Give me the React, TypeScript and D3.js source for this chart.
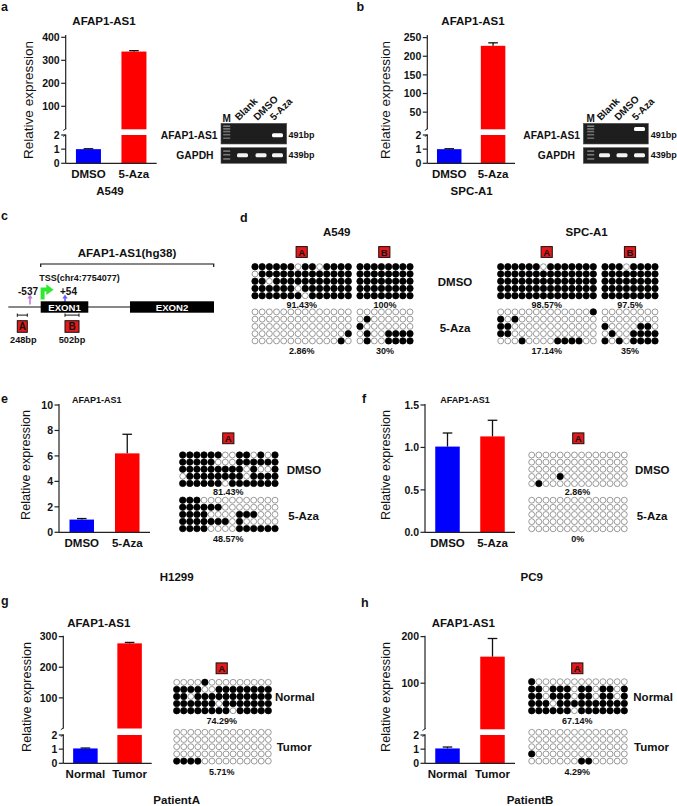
import React from "react";
import * as d3 from "d3";

const FONT = "'Liberation Sans', Arial, Helvetica, sans-serif";
const BLUE = "#0000ff";
const RED = "#ff0000";
const BOXRED = "#e8181a";

// ---------------- data ----------------
const TREATMENTS = ["DMSO", "5-Aza"];
const TISSUES = ["Normal", "Tumor"];

const A549_EXPR = [1.0, 338];
const A549_ERR = [0.03, 4];
const SPCA1_EXPR = [1.0, 228];
const SPCA1_ERR = [0.03, 8];
const H1299_EXPR = [1.0, 6.2];
const H1299_ERR = [0.08, 1.5];
const PC9_EXPR = [1.01, 1.13];
const PC9_ERR = [0.16, 0.19];
const PATIENTA_EXPR = [1.05, 278];
const PATIENTA_ERR = [0.03, 3];
const PATIENTB_EXPR = [1.05, 157];
const PATIENTB_ERR = [0.1, 39];

const TICKS_LOWER = [0, 1, 2];
const TICKS_A_UPPER = [100, 200, 300, 400];
const TICKS_B_UPPER = [50, 100, 150, 200, 250];
const TICKS_E = [0, 2, 4, 6, 8, 10];
const TICKS_F = [0, 0.5, 1.0, 1.5];
const TICKS_G_UPPER = [100, 200, 300];
const TICKS_H_UPPER = [100, 200];

const GEL_LANES = ["M", "Blank", "DMSO", "5-Aza"];
const GEL_A549_TARGET = [0, 0, 1];
const GEL_A549_GAPDH = [1, 1, 1];
const GEL_SPCA1_TARGET = [0, 0, 1];
const GEL_SPCA1_GAPDH = [1, 1, 1];

// methylation patterns (1 = methylated, 0 = unmethylated)
const A549_A_DMSO = ["11111101101111", "01111111111111", "11011111111111", "11111101111111", "11111110111111"];
const A549_A_AZA = ["00000000000000", "00000000000000", "00000000000000", "00000000000001", "00000000000010"];
const A549_B_DMSO = ["11111111", "11111111", "11111111", "11111111", "11111111"];
const A549_B_AZA = ["00000000", "01000000", "10000000", "01001111", "01001111"];
const SPC_A_DMSO = ["11111101111111", "11111111111111", "11111111111111", "11111111111111", "11111111111111"];
const SPC_A_AZA = ["00000000000001", "10100000000000", "11000000000000", "11000000000000", "00010000111100"];
const SPC_B_DMSO = ["11101111", "11111111", "11111111", "11111111", "11111111"];
const SPC_B_AZA = ["00000000", "00000000", "10000110", "01001111", "10101111"];
const H1299_DMSO = ["11111100110101", "11111000111111", "11111111101001", "01111111101111", "11111101111111"];
const H1299_AZA = ["11100000000000", "11111100000000", "11110000111000", "11111110100000", "11110000111111"];
const PC9_DMSO = ["00000000000000", "00000000000000", "00000000000000", "00001000000000", "01000000000000"];
const PC9_AZA = ["00000000000000", "00000000000000", "00000000000000", "00000000000000", "00000000000000"];
const PA_NORMAL = ["00001000000000", "11110011111111", "11011111111111", "11111101111111", "11111111011111"];
const PA_TUMOR = ["00000000000000", "00000000000000", "00000000000000", "00000000000000", "11110000000000"];
const PB_NORMAL = ["10000000000000", "11011101101101", "11011101101101", "11101111111111", "11111101111111"];
const PB_TUMOR = ["00000000000000", "00000000000000", "00000000000000", "10000000000000", "00000001100000"];

// ---------------- helpers ----------------
function T(props: any) {
  const { x, y, size = 11, weight = "bold", anchor = "middle", fill = "#111", rotate, len, children } = props;
  return (
    <text
      x={x}
      y={y}
      fontSize={size}
      fontWeight={weight}
      textAnchor={anchor}
      fill={fill}
      fontFamily={FONT}
      transform={rotate != null ? `rotate(${rotate} ${x} ${y})` : undefined}
      textLength={len}
      lengthAdjust={len ? "spacingAndGlyphs" : undefined}
    >
      {children}
    </text>
  );
}

function BarChart(p: any) {
  const { axisX, axisEnd, baseY, cats, values, errs, barW } = p;
  const xs = d3.scalePoint<string>().domain(cats).range([axisX, axisEnd]).padding(0.5);
  let lower: any = null;
  let upper: any = null;
  let single: any = null;
  if (p.seg) {
    lower = d3.scaleLinear().domain([0, 2]).range([baseY, p.seg.lowerTop]);
    upper = d3.scaleLinear().domain(p.seg.upperDomain).range([p.seg.upperBottom, p.seg.upperTop]);
  } else {
    single = d3.scaleLinear().domain(p.domain).range([baseY, p.top]);
  }
  const els: any[] = [];
  cats.forEach((c: string, i: number) => {
    const v = values[i];
    const e = errs[i];
    const cx = xs(c) as number;
    const fill = i === 0 ? BLUE : RED;
    let topY: number;
    let errY: number;
    if (p.seg && v > 2) {
      els.push(<rect key={"bl" + i} x={cx - barW / 2} y={lower(2)} width={barW} height={lower(0) - lower(2)} fill={fill} />);
      topY = upper(v);
      els.push(<rect key={"bu" + i} x={cx - barW / 2} y={topY} width={barW} height={upper(p.seg.upperDomain[0]) - topY} fill={fill} />);
      errY = upper(v + e);
    } else {
      const sc = p.seg ? lower : single;
      topY = sc(v);
      errY = sc(v + e);
      els.push(<rect key={"b" + i} x={cx - barW / 2} y={topY} width={barW} height={baseY - topY} fill={fill} />);
    }
    els.push(<line key={"e" + i} x1={cx} x2={cx} y1={topY} y2={errY} stroke="#111" strokeWidth={1.3} />);
    els.push(<line key={"c" + i} x1={cx - 4.8} x2={cx + 4.8} y1={errY} y2={errY} stroke="#111" strokeWidth={1.3} />);
    els.push(
      <T key={"l" + i} x={cx} y={p.catY} size={11.5}>
        {c}
      </T>
    );
  });
  const axisEls: any[] = [];
  const tick = (y: number, label: string, k: string) => {
    axisEls.push(<line key={"t" + k} x1={axisX - 4.5} x2={axisX} y1={y} y2={y} stroke="#222" strokeWidth={1.2} />);
    axisEls.push(
      <T key={"tl" + k} x={axisX - 6} y={y + 3.7} size={10.5} anchor="end">
        {label}
      </T>
    );
  };
  const fmt = p.fmt || ((d: number) => String(d));
  if (p.seg) {
    axisEls.push(<line key="al" x1={axisX} x2={axisX} y1={baseY} y2={p.seg.lowerTop} stroke="#222" strokeWidth={1.2} />);
    axisEls.push(<line key="au" x1={axisX} x2={axisX} y1={p.seg.upperBottom} y2={p.seg.upperTop} stroke="#222" strokeWidth={1.2} />);
    axisEls.push(<line key="bk1" x1={axisX - 2.5} x2={axisX + 0.5} y1={p.seg.lowerTop + 1.5} y2={p.seg.lowerTop - 0.5} stroke="#222" strokeWidth={1} />);
    axisEls.push(<line key="bk2" x1={axisX - 2.5} x2={axisX + 0.5} y1={p.seg.upperBottom + 1.2} y2={p.seg.upperBottom - 0.8} stroke="#222" strokeWidth={1} />);
    TICKS_LOWER.forEach((t) => tick(lower(t), fmt(t), "lo" + t));
    p.upperTicks.forEach((t: number) => tick(upper(t), fmt(t), "up" + t));
  } else {
    axisEls.push(<line key="a" x1={axisX} x2={axisX} y1={baseY} y2={p.top - 1} stroke="#222" strokeWidth={1.2} />);
    p.ticks.forEach((t: number) => tick(single(t), fmt(t), "s" + t));
  }
  axisEls.push(<line key="xa" x1={axisX} x2={axisEnd} y1={baseY} y2={baseY} stroke="#222" strokeWidth={1.2} />);
  return (
    <g>
      {els}
      {axisEls}
      <T x={p.title.x} y={p.title.y} size={p.title.size}>
        AFAP1-AS1
      </T>
      <T x={p.ylab.x} y={p.ylab.y} size={p.ylab.size} weight="normal" rotate={-90}>
        Relative expression
      </T>
    </g>
  );
}

function Matrix(p: any) {
  const { pattern, x0, x1, y0, dy, r = 3.2 } = p;
  const ncol = pattern[0].length;
  const xs = d3.scaleLinear().domain([0, ncol - 1]).range([x0, x1]);
  const ys = d3.scaleLinear().domain([0, 1]).range([y0, y0 + dy]);
  return (
    <g>
      {pattern.map((row: string, i: number) =>
        row.split("").map((c, j) => (
          <circle
            key={i + "-" + j}
            cx={xs(j)}
            cy={ys(i)}
            r={c === "1" ? r : r - 0.25}
            fill={c === "1" ? "#000" : "#fff"}
            stroke={c === "1" ? "#000" : "#7a7a7a"}
            strokeWidth={0.75}
          />
        ))
      )}
    </g>
  );
}

function RegionBox({ x, y, label }: any) {
  return (
    <g>
      <rect x={x - 5.6} y={y - 5.4} width={11.2} height={10.8} fill={BOXRED} stroke="#111" strokeWidth={1} />
      <T x={x} y={y + 3.5} size={9.5} weight="bold" fill="#111">
        {label}
      </T>
    </g>
  );
}

function Gel(p: any) {
  const { x, w, lanes, target, gapdh, targetY, labelEnd1, labelEnd2, bpX } = p;
  const topY = 123.3, topH = 20.7, botY = 147.7, botH = 15.6;
  const ladderTop = [0.14, 0.27, 0.4, 0.55, 0.72];
  const ladderBot = [0.22, 0.45, 0.72];
  const bands: any[] = [];
  ladderTop.forEach((f, i) =>
    bands.push(<rect key={"lt" + i} x={lanes[0] - 3.5} y={topY + f * topH - 0.8} width={7} height={1.6} fill="#9a9a9a" opacity={0.8 - i * 0.05} />)
  );
  ladderBot.forEach((f, i) =>
    bands.push(<rect key={"lb" + i} x={lanes[0] - 3.5} y={botY + f * botH - 0.8} width={7} height={1.6} fill="#9a9a9a" opacity={0.75} />)
  );
  target.forEach((v: number, i: number) => {
    if (v) bands.push(<rect key={"t" + i} x={lanes[i + 1] - 5.5} y={targetY - 2} width={11} height={4} rx={1.5} fill="#fff" filter="url(#glow)" />);
  });
  gapdh.forEach((v: number, i: number) => {
    if (v) bands.push(<rect key={"g" + i} x={lanes[i + 1] - 5.5} y={155.3 - 2} width={11} height={4} rx={1.5} fill="#f4f4f4" filter="url(#glow)" />);
  });
  return (
    <g>
      <rect x={x} y={topY} width={w} height={topH} fill="#1e1e1e" stroke="#555" strokeWidth={0.6} />
      <rect x={x} y={botY} width={w} height={botH} fill="#1e1e1e" stroke="#555" strokeWidth={0.6} />
      {bands}
      <T x={lanes[0]} y={121.5} size={10}>
        {GEL_LANES[0]}
      </T>
      {GEL_LANES.slice(1).map((l, i) => (
        <T key={l} x={lanes[i + 1] - 3.5} y={121} size={10} anchor="start" rotate={-45}>
          {l}
        </T>
      ))}
      <T x={labelEnd1} y={138.6} size={10.3} anchor="end">
        AFAP1-AS1
      </T>
      <T x={labelEnd2} y={158.6} size={10.3} anchor="end">
        GAPDH
      </T>
      <T x={bpX} y={138.4} size={9} anchor="start">
        491bp
      </T>
      <T x={bpX} y={158.4} size={9} anchor="start">
        439bp
      </T>
    </g>
  );
}

function PanelC() {
  return (
    <g>
      <T x={127} y={257} size={11.6}>
        AFAP1-AS1(hg38)
      </T>
      <path d="M40.7,267 V264 H213.7 V267" fill="none" stroke="#111" strokeWidth={1.2} />
      <T x={39.3} y={280.5} size={9} anchor="start">
        TSS(chr4:7754077)
      </T>
      <T x={28} y={294.5} size={10}>
        -537
      </T>
      <T x={68.5} y={294.5} size={10}>
        +54
      </T>
      <line x1={30} x2={30} y1={304.5} y2={298} stroke="#c57ad6" strokeWidth={1.6} />
      <polygon points="27.3,298.5 32.7,298.5 30,294.6" fill="#c57ad6" />
      <line x1={65} x2={65} y1={304.5} y2={298} stroke="#6464ff" strokeWidth={1.6} />
      <polygon points="62.3,298.5 67.7,298.5 65,294.6" fill="#6464ff" />
      <line x1={8.3} x2={130} y1={307} y2={307} stroke="#111" strokeWidth={1} />
      <path d="M40.6,299.5 V287.6 H46.3 V284.3 L53.6,289.7 L46.3,295.1 V291.6 H44.6 V299.5 Z" fill="#2ee82e" />
      <rect x={40.7} y={301.3} width={47.6} height={11.4} fill="#000" />
      <T x={64.5} y={310.6} size={9.6} fill="#fff">
        EXON1
      </T>
      <rect x={130} y={301.3} width={84} height={11.4} fill="#000" />
      <T x={172} y={310.6} size={9.6} fill="#fff">
        EXON2
      </T>
      <path d="M17.3,313.5 V316.8 M17.3,315.1 H27.3 M27.3,313.5 V316.8" fill="none" stroke="#111" strokeWidth={1} />
      <rect x={17.3} y={320.7} width={10} height={11.6} fill={BOXRED} stroke="#111" strokeWidth={1} />
      <T x={22.3} y={330} size={10}>
        A
      </T>
      <path d="M65,313.5 V316.8 M65,315.1 H79 M79,313.5 V316.8" fill="none" stroke="#111" strokeWidth={1} />
      <rect x={65} y={320.7} width={14} height={11.6} fill={BOXRED} stroke="#111" strokeWidth={1} />
      <T x={72} y={330} size={10}>
        B
      </T>
      <T x={23.3} y={342.6} size={9.2}>
        248bp
      </T>
      <T x={72} y={342.6} size={9.2}>
        502bp
      </T>
    </g>
  );
}

export default function App() {
  return (
    <svg
      width={677}
      height={806}
      viewBox="0 0 677 806"
      style={{ position: "absolute", left: 0, top: 0, background: "#fff", display: "block" }}
      fontFamily={FONT}
    >
      <defs>
        <filter id="glow" x="-50%" y="-100%" width="200%" height="300%">
          <feGaussianBlur stdDeviation="0.7" />
        </filter>
      </defs>
      <rect x={0} y={0} width={677} height={806} fill="#fff" />

      {/* panel letters */}
      <T x={1} y={10.5} size={12.5} anchor="start">a</T>
      <T x={356.5} y={11} size={12.5} anchor="start">b</T>
      <T x={1} y={220} size={12.5} anchor="start">c</T>
      <T x={240} y={221.5} size={12.5} anchor="start">d</T>
      <T x={1} y={403} size={12.5} anchor="start">e</T>
      <T x={362} y={403} size={12.5} anchor="start">f</T>
      <T x={1} y={605} size={12.5} anchor="start">g</T>
      <T x={361} y={607} size={12.5} anchor="start">h</T>

      {/* a */}
      <BarChart
        axisX={65.7}
        axisEnd={156.7}
        baseY={163.3}
        cats={TREATMENTS}
        values={A549_EXPR}
        errs={A549_ERR}
        barW={25}
        seg={{ lowerTop: 135, upperDomain: [0, 410], upperBottom: 129.3, upperTop: 35 }}
        upperTicks={TICKS_A_UPPER}
        catY={178}
        title={{ x: 104, y: 25, size: 11.5 }}
        ylab={{ x: 32.8, y: 100, size: 13.5 }}
      />
      <T x={110} y={195} size={11.5}>A549</T>
      <Gel
        x={221}
        w={65.7}
        lanes={[226.7, 242.5, 261, 277.5]}
        target={GEL_A549_TARGET}
        gapdh={GEL_A549_GAPDH}
        targetY={135.3}
        labelEnd1={217.5}
        labelEnd2={213.5}
        bpX={288.5}
      />

      {/* b */}
      <BarChart
        axisX={427.3}
        axisEnd={515}
        baseY={163.3}
        cats={TREATMENTS}
        values={SPCA1_EXPR}
        errs={SPCA1_ERR}
        barW={24.5}
        seg={{ lowerTop: 135, upperDomain: [4, 257], upperBottom: 129.3, upperTop: 35 }}
        upperTicks={TICKS_B_UPPER}
        catY={178}
        title={{ x: 473, y: 25, size: 11.5 }}
        ylab={{ x: 389.8, y: 100, size: 13.5 }}
      />
      <T x={471.7} y={195} size={11.5}>SPC-A1</T>
      <Gel
        x={583.3}
        w={65}
        lanes={[590.7, 604.5, 622, 639.5]}
        target={GEL_SPCA1_TARGET}
        gapdh={GEL_SPCA1_GAPDH}
        targetY={129}
        labelEnd1={580}
        labelEnd2={575}
        bpX={650.7}
      />

      {/* c */}
      <PanelC />

      {/* d */}
      <T x={336.7} y={235.8} size={11.5}>A549</T>
      <T x={586.7} y={236.3} size={11.5}>SPC-A1</T>
      <RegionBox x={301.7} y={252} label="A" />
      <RegionBox x={384.3} y={252} label="B" />
      <RegionBox x={546.7} y={252} label="A" />
      <RegionBox x={630} y={252} label="B" />
      <Matrix pattern={A549_A_DMSO} x0={255} x1={348.3} y0={266.7} dy={7.25} />
      <Matrix pattern={A549_A_AZA} x0={255} x1={348.3} y0={311.9} dy={7.25} />
      <Matrix pattern={A549_B_DMSO} x0={360} x1={410} y0={266.7} dy={7.25} />
      <Matrix pattern={A549_B_AZA} x0={360} x1={410} y0={311.9} dy={7.25} />
      <Matrix pattern={SPC_A_DMSO} x0={500.7} x1={593.3} y0={266.7} dy={7.25} />
      <Matrix pattern={SPC_A_AZA} x0={500.7} x1={593.3} y0={311.9} dy={7.25} />
      <Matrix pattern={SPC_B_DMSO} x0={605} x1={655} y0={266.7} dy={7.25} />
      <Matrix pattern={SPC_B_AZA} x0={605} x1={655} y0={311.9} dy={7.25} />
      <T x={301.7} y={307.6} size={9}>91.43%</T>
      <T x={385} y={307.6} size={9}>100%</T>
      <T x={301.7} y={353.6} size={9}>2.86%</T>
      <T x={385} y={353.6} size={9}>30%</T>
      <T x={546.7} y={307.6} size={9}>98.57%</T>
      <T x={630} y={307.6} size={9}>97.5%</T>
      <T x={546.7} y={353.6} size={9}>17.14%</T>
      <T x={630} y={353.6} size={9}>35%</T>
      <T x={455} y={285.6} size={11.5}>DMSO</T>
      <T x={455} y={331.6} size={11.5}>5-Aza</T>

      {/* e */}
      <BarChart
        axisX={59}
        axisEnd={150}
        baseY={532.3}
        cats={TREATMENTS}
        values={H1299_EXPR}
        errs={H1299_ERR}
        barW={24.5}
        domain={[0, 10]}
        top={405}
        ticks={TICKS_E}
        catY={547.3}
        title={{ x: 96.7, y: 403, size: 9 }}
        ylab={{ x: 29.5, y: 465, size: 12.6 }}
      />
      <T x={176.7} y={581} size={11.5}>H1299</T>
      <RegionBox x={228.3} y={438.3} label="A" />
      <Matrix pattern={H1299_DMSO} x0={182.7} x1={275} y0={455} dy={7.1} />
      <Matrix pattern={H1299_AZA} x0={182.7} x1={275} y0={500.2} dy={7.1} />
      <T x={228.3} y={494.5} size={9}>81.43%</T>
      <T x={228.3} y={541.8} size={9}>48.57%</T>
      <T x={286.7} y={474} size={11.5} anchor="start">DMSO</T>
      <T x={288.3} y={520} size={11.5} anchor="start">5-Aza</T>

      {/* f */}
      <BarChart
        axisX={425}
        axisEnd={515}
        baseY={532.3}
        cats={TREATMENTS}
        values={PC9_EXPR}
        errs={PC9_ERR}
        barW={24.5}
        domain={[0, 1.5]}
        top={405}
        ticks={TICKS_F}
        fmt={d3.format(".1f")}
        catY={547.3}
        title={{ x: 465, y: 403, size: 9 }}
        ylab={{ x: 389.5, y: 465, size: 12.6 }}
      />
      <T x={531.7} y={581} size={11.5}>PC9</T>
      <RegionBox x={578.3} y={438.3} label="A" />
      <Matrix pattern={PC9_DMSO} x0={531.7} x1={624.3} y0={455} dy={7.15} />
      <Matrix pattern={PC9_AZA} x0={531.7} x1={624.3} y0={500.2} dy={7.15} />
      <T x={577.5} y={494.5} size={9}>2.86%</T>
      <T x={577.7} y={541.8} size={9}>0%</T>
      <T x={635} y={474} size={11.5} anchor="start">DMSO</T>
      <T x={636.7} y={520} size={11.5} anchor="start">5-Aza</T>

      {/* g */}
      <BarChart
        axisX={63.3}
        axisEnd={151.7}
        baseY={763.3}
        cats={TISSUES}
        values={PATIENTA_EXPR}
        errs={PATIENTA_ERR}
        barW={24.5}
        seg={{ lowerTop: 735, upperDomain: [0, 303], upperBottom: 728.5, upperTop: 635.7 }}
        upperTicks={TICKS_G_UPPER}
        catY={778}
        title={{ x: 98.8, y: 626.5, size: 11.5 }}
        ylab={{ x: 31, y: 697, size: 12.6 }}
      />
      <T x={176.7} y={804} size={11.5}>PatientA</T>
      <RegionBox x={221.7} y={668.3} label="A" />
      <Matrix pattern={PA_NORMAL} x0={176.7} x1={268.3} y0={682.3} dy={7.1} />
      <Matrix pattern={PA_TUMOR} x0={176.7} x1={268.3} y0={732.3} dy={7.2} />
      <T x={221.7} y={724.2} size={9}>74.29%</T>
      <T x={221.7} y={774.8} size={9}>5.71%</T>
      <T x={275} y={701.3} size={11.5} anchor="start">Normal</T>
      <T x={276.7} y={751.3} size={11.5} anchor="start">Tumor</T>

      {/* h */}
      <BarChart
        axisX={425}
        axisEnd={515}
        baseY={763.3}
        cats={TISSUES}
        values={PATIENTB_EXPR}
        errs={PATIENTB_ERR}
        barW={24.5}
        seg={{ lowerTop: 735, upperDomain: [1, 202], upperBottom: 729.3, upperTop: 635.7 }}
        upperTicks={TICKS_H_UPPER}
        catY={778}
        title={{ x: 463.3, y: 626.5, size: 11.5 }}
        ylab={{ x: 389.5, y: 697, size: 12.6 }}
      />
      <T x={530} y={804} size={11.5}>PatientB</T>
      <RegionBox x={577.3} y={668.3} label="A" />
      <Matrix pattern={PB_NORMAL} x0={531.7} x1={624.3} y0={681.7} dy={7.25} />
      <Matrix pattern={PB_TUMOR} x0={531.7} x1={624.3} y0={732.3} dy={7.2} />
      <T x={577.3} y={724.2} size={9}>67.14%</T>
      <T x={577.3} y={774.8} size={9}>4.29%</T>
      <T x={633.3} y={701.3} size={11.5} anchor="start">Normal</T>
      <T x={634} y={751.3} size={11.5} anchor="start">Tumor</T>
    </svg>
  );
}
